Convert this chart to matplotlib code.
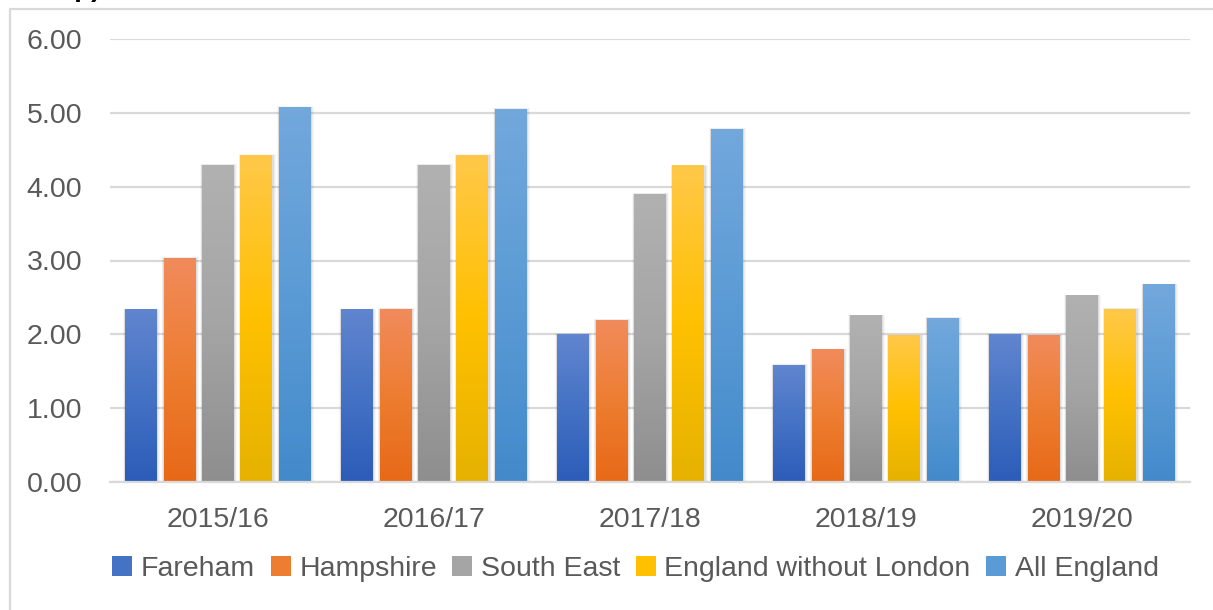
import numpy as np
import matplotlib
matplotlib.use("Agg")
import matplotlib.pyplot as plt
from matplotlib.patches import Rectangle, Patch
from matplotlib.colors import LinearSegmentedColormap

years = ["2015/16", "2016/17", "2017/18", "2018/19", "2019/20"]
series = ["Fareham", "Hampshire", "South East", "England without London", "All England"]
fareham = [2.33, 2.33, 2.00, 1.58, 2.00]
hampshire = [3.03, 2.34, 2.19, 1.79, 1.99]
south_east = [4.29, 4.29, 3.90, 2.25, 2.52]
eng_wo_london = [4.42, 4.42, 4.28, 1.98, 2.34]
all_england = [5.07, 5.05, 4.78, 2.22, 2.67]
values = [fareham, hampshire, south_east, eng_wo_london, all_england]
yticks = [0, 1, 2, 3, 4, 5, 6]

top_cols = ["#6185cf", "#f18b5c", "#b1b1b1", "#ffc849", "#72a8dc"]
bot_cols = ["#2d5cb9", "#e76917", "#8e8e8e", "#e6b200", "#438acb"]
mid_cols = ["#4472c4", "#ed7d31", "#a5a5a5", "#ffc000", "#5b9bd5"]

plt.rcParams['font.family'] = ['Liberation Sans', 'DejaVu Sans']
txt = "#595959"
grid = "#d9d9d9"

fig = plt.figure(figsize=(12.13, 6.10), dpi=100)
ax = fig.add_axes([110/1213, 1-482/610, 1080/1213, (482-39)/610])

x = np.arange(len(years))
step = 0.178
width = 0.148
for i, (vals, name) in enumerate(zip(values, series)):
    pos = x + (i - 2) * step
    bars = ax.bar(pos, vals, width, color=mid_cols[i], zorder=3, label=name)
    cmap = LinearSegmentedColormap.from_list("g%d" % i, [bot_cols[i], mid_cols[i], top_cols[i]])
    for b in bars:
        b.set_alpha(0)
        bx, bw, bh = b.get_x(), b.get_width(), b.get_height()
        # soft shadow
        for k, a in enumerate([0.06, 0.045, 0.03]):
            d = 0.005 * (k + 1)
            ax.add_patch(Rectangle((bx - d*0.6, 0), bw + d*1.6, bh + d*1.2,
                                   facecolor="black", alpha=a, lw=0, zorder=2))
        grad = np.linspace(0, 1, 256).reshape(-1, 1)
        ax.imshow(grad, extent=(bx, bx + bw, 0, bh), origin="lower", cmap=cmap,
                  aspect="auto", zorder=4, interpolation="bilinear")

ax.set_xlim(-0.5, len(years) - 0.5)
ax.set_ylim(0, 6)
ax.set_yticks(yticks)
ax.set_yticklabels(["%.2f" % v for v in yticks])
ax.set_xticks(x)
ax.set_xticklabels(years)
ax.yaxis.grid(True, color=grid, lw=1.6, zorder=1)
ax.set_axisbelow(True)
for s in ["top", "right", "left"]:
    ax.spines[s].set_visible(False)
ax.spines["bottom"].set_color(grid)
ax.spines["bottom"].set_linewidth(1.6)
ax.spines["bottom"].set_zorder(5)
ax.tick_params(axis="both", length=0, labelsize=20.5, colors=txt)
ax.tick_params(axis="y", pad=20)
ax.tick_params(axis="x", pad=18)

handles = [Patch(facecolor=mid_cols[i], edgecolor="none") for i in range(5)]
fig.legend(handles, series, loc="center", bbox_to_anchor=(0.524, 1-569/610), ncol=5,
           frameon=False, fontsize=20.5, labelcolor=txt, handlelength=0.7,
           handleheight=0.7, handletextpad=0.3, columnspacing=0.55, borderaxespad=0)

# outer chart frame (partially cropped)
fig.add_artist(Rectangle((10/1213, -0.05), 1.1, 1 - 9/610 + 0.05, transform=fig.transFigure,
                         facecolor="none", edgecolor=grid, lw=1.6, clip_on=False))
# cropped title at the top
fig.text(100/1213, 1 + 4/610, "(per 1,000 households in Temp)", ha="right", va="baseline",
         fontsize=20, fontweight="bold", color="black")

fig.savefig("out.png", dpi=100)
